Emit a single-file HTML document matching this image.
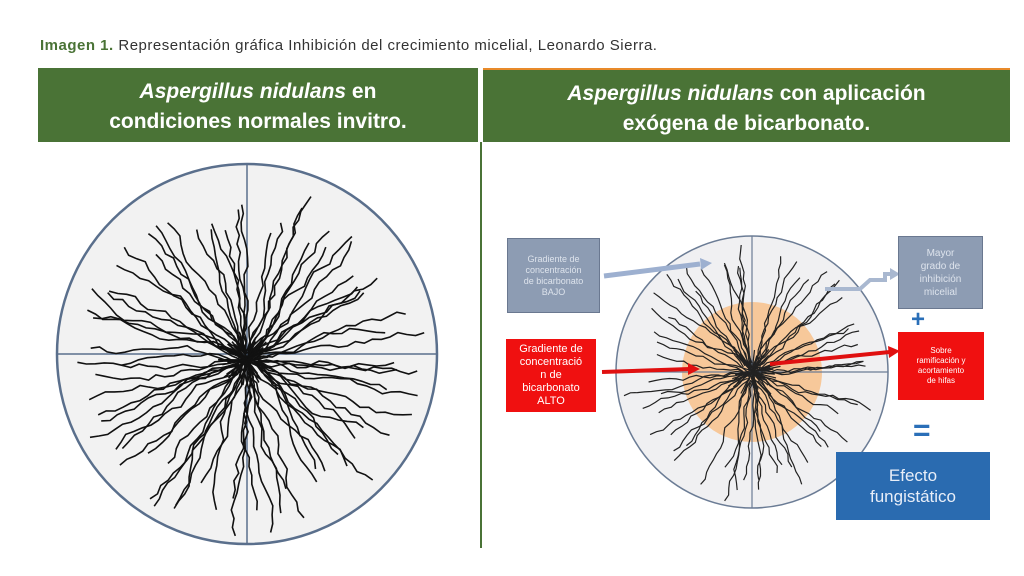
<!DOCTYPE html>
<html><head><meta charset="utf-8">
<style>
body{margin:0;width:1024px;height:576px;background:#fff;position:relative;overflow:hidden;font-family:"Liberation Sans",sans-serif}
.cap{position:absolute;left:40px;top:37px;font-size:15px;color:#333;letter-spacing:0.5px}
.cap b{color:#4a7336}
.hd{position:absolute;background:#4a7336;color:#fff;font-weight:bold;font-size:21px;line-height:30px;text-align:center;padding-top:9px;box-sizing:border-box}
.box{position:absolute;color:#fff;text-align:center;display:flex;align-items:center;justify-content:center;box-sizing:border-box;font-size:9px;line-height:11px}
</style></head><body>
<div class="cap"><b>Imagen 1.</b> Representación gráfica Inhibición del crecimiento micelial, Leonardo Sierra.</div>
<div class="hd" style="left:38px;top:68px;width:440px;height:74px"><i>Aspergillus nidulans</i> en<br>condiciones normales invitro.</div>
<div class="hd" style="left:483px;top:68px;width:527px;height:74px;border-top:2px solid #e88a2a"><i>Aspergillus nidulans</i> con aplicación<br>exógena de bicarbonato.</div>
<div style="position:absolute;left:480px;top:142px;width:2px;height:406px;background:#4a7336"></div>
<svg id="s" width="1024" height="576" style="position:absolute;left:0;top:0">
<circle cx="247" cy="354" r="190" fill="#f2f2f2" stroke="#5a6f8c" stroke-width="2.5"/>
<line x1="57" y1="354" x2="437" y2="354" stroke="#5a6f8c" stroke-width="1.5"/>
<line x1="247" y1="164" x2="247" y2="544" stroke="#5a6f8c" stroke-width="1.5"/>
<circle cx="752" cy="372" r="136" fill="#f0f0f2" stroke="#6b7c95" stroke-width="1.5"/>
<circle cx="752" cy="372" r="70" fill="#f7c89a"/>
<line x1="616" y1="372" x2="888" y2="372" stroke="#6b7c95" stroke-width="1.2"/>
<line x1="752" y1="236" x2="752" y2="508" stroke="#6b7c95" stroke-width="1.2"/>
<g id="h1" fill="none" stroke="#111" stroke-width="1.6"></g>
<g id="h2" fill="none" stroke="#222" stroke-width="1.2"></g>
<line x1="604" y1="276" x2="700" y2="264" stroke="#9db0d0" stroke-width="5"/>
<polygon points="700,258 712,263 701,270" fill="#9db0d0"/>
<polyline points="825,289 860,289 870,280 885,280 885,274 892,274" fill="none" stroke="#a9b8d0" stroke-width="4"/>
<polygon points="890,268 900,274 890,280" fill="#a9b8d0"/>
<line x1="602" y1="372" x2="690" y2="369" stroke="#e01010" stroke-width="4"/>
<polygon points="688,363 700,369 688,375" fill="#e01010"/>
<line x1="770" y1="364" x2="890" y2="352" stroke="#e01010" stroke-width="4"/>
<polygon points="888,346 900,351 889,358" fill="#e01010"/>
</svg>
<div class="box" style="left:507px;top:238px;width:93px;height:75px;background:#8d9cb3;border:1px solid #6a7890;color:#dde3ec">Gradiente de<br>concentración<br>de bicarbonato<br>BAJO</div>
<div class="box" style="left:506px;top:339px;width:90px;height:73px;background:#f01010;font-size:11px;line-height:13px">Gradiente de<br>concentració<br>n de<br>bicarbonato<br>ALTO</div>
<div class="box" style="left:898px;top:236px;width:85px;height:73px;background:#8d9cb3;border:1px solid #6a7890;color:#dde3ec;font-size:10px;line-height:13px">Mayor<br>grado de<br>inhibición<br>micelial</div>
<div class="box" style="left:898px;top:332px;width:86px;height:68px;background:#f01010;font-size:8px;line-height:10px">Sobre<br>ramificación y<br>acortamiento<br>de hifas</div>
<div style="position:absolute;left:911px;top:306px;color:#2a6fb8;font-size:24px;font-weight:bold">+</div>
<div style="position:absolute;left:913px;top:414px;color:#2a6fb8;font-size:30px;font-weight:bold">=</div>
<div class="box" style="left:836px;top:452px;width:154px;height:68px;background:#2a6bb0;font-size:17px;line-height:21px;color:#e8eef8">Efecto<br>fungistático</div>
<script>
var seed=7;function r(){seed=(seed*16807)%2147483647;return seed/2147483647;}
function draw(id,cx,cy,n,R0,R1,step,wig){var g=document.getElementById(id),s='';
for(var i=0;i<n;i++){var a0=i/n*6.283+r()*0.2,a=a0,len=R0+r()*(R1-R0),x=cx+Math.cos(a)*r()*12,y=cy+Math.sin(a)*r()*12,d='M'+x.toFixed(1)+' '+y.toFixed(1),t=0;
while(t<len){t+=step;a=a0+(r()-0.5)*wig;x+=Math.cos(a)*step;y+=Math.sin(a)*step;d+=' L'+x.toFixed(1)+' '+y.toFixed(1);}
s+='<path d="'+d+'"/>';}
for(var j=0;j<60;j++){var a2=r()*6.283,l=r()*30;s+='<path d="M'+cx+' '+cy+' L'+(cx+Math.cos(a2)*l).toFixed(1)+' '+(cy+Math.sin(a2)*l).toFixed(1)+'"/>';}
g.innerHTML=s;}
draw('h1',247,360,75,120,175,9,0.9);
draw('h2',752,372,60,85,125,7,0.8);
</script>
</body></html>
